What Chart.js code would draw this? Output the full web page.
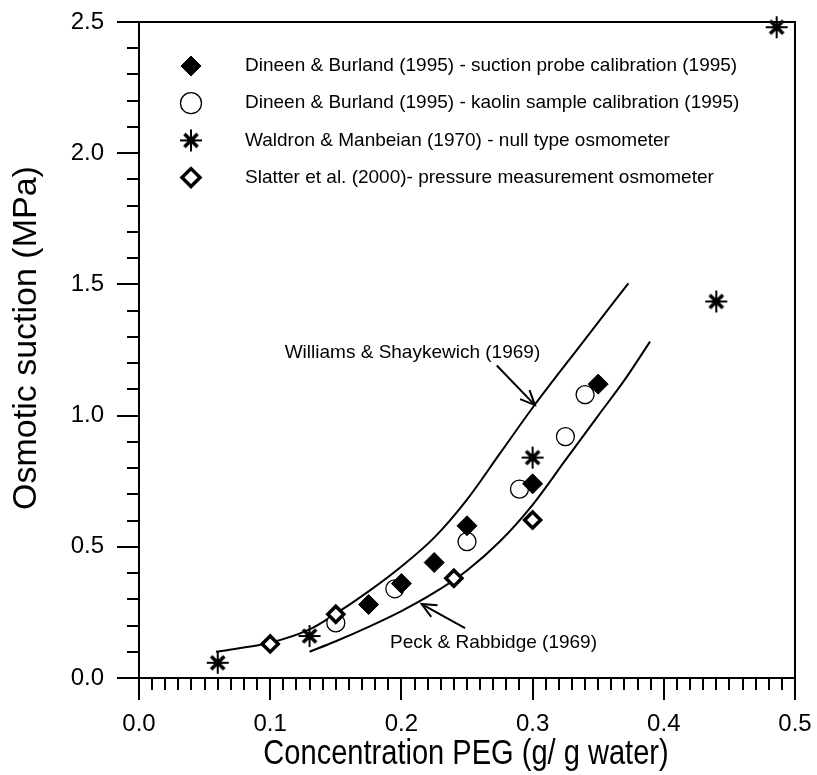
<!DOCTYPE html>
<html>
<head>
<meta charset="utf-8">
<script src="https://cdn.jsdelivr.net/npm/chart.js@4/dist/chart.umd.min.js"></script>
<style>html,body{margin:0;padding:0;background:#fff;}canvas{display:block;}</style>
</head>
<body>
<canvas id="c" width="817" height="775"></canvas>
<script>
// ---- data ----
const probeX   = [0.175, 0.200, 0.225, 0.250, 0.300, 0.350];
const probeY   = [0.28, 0.36, 0.44, 0.58, 0.74, 1.12];
const kaolinX  = [0.150, 0.195, 0.250, 0.290, 0.325, 0.340];
const kaolinY  = [0.21, 0.34, 0.52, 0.72, 0.92, 1.08];
const waldronX = [0.060, 0.130, 0.300, 0.440, 0.486];
const waldronY = [0.058, 0.160, 0.840, 1.435, 2.480];
const slatterX = [0.100, 0.150, 0.240, 0.300];
const slatterY = [0.130, 0.243, 0.380, 0.602];
const williamsX = [0.0587, 0.080, 0.100, 0.130, 0.150, 0.175, 0.200, 0.225, 0.250, 0.275, 0.300, 0.336, 0.373];
const williamsY = [0.100, 0.116, 0.134, 0.185, 0.245, 0.330, 0.425, 0.535, 0.680, 0.855, 1.030, 1.265, 1.504];
const peckX = [0.130, 0.150, 0.175, 0.200, 0.225, 0.250, 0.275, 0.300, 0.325, 0.350, 0.370, 0.3895];
const peckY = [0.100, 0.140, 0.195, 0.255, 0.325, 0.410, 0.520, 0.660, 0.830, 1.000, 1.135, 1.282];

const seriesLabels = [
  'Dineen & Burland (1995) - suction probe calibration (1995)',
  'Dineen & Burland (1995) - kaolin sample calibration (1995)',
  'Waldron & Manbeian (1970) - null type osmometer',
  'Slatter et al. (2000)- pressure measurement osmometer'
];
const curveLabels = ['Williams & Shaykewich (1969)', 'Peck & Rabbidge (1969)'];
const xAxisTitle = 'Concentration PEG (g/ g water)';
const yAxisTitle = 'Osmotic suction (MPa)';

// annotation anchors in data units
const williamsNote = {textX: 0.3058, textY: 1.238, fromX: 0.2727, fromY: 1.191, toX: 0.3018, toY: 1.040};
const peckNote = {textX: 0.1913, textY: 0.133, fromX: 0.2485, fromY: 0.1905, toX: 0.2154, toY: 0.282};

const pts = (xs, ys) => xs.map((v, i) => ({x: v, y: ys[i]}));
const FONT = '"Liberation Sans", Arial, Helvetica, sans-serif';
const TARGET = {left: 139, top: 22, right: 795, bottom: 678};

// asterisk-like star marker (thin cross + thick diagonals)
function makeStar(r) {
  const c = document.createElement('canvas');
  const s = Math.ceil(2 * r + 4);
  c.width = s; c.height = s;
  const g = c.getContext('2d'), m = s / 2, d = r * 0.6;
  g.strokeStyle = '#000'; g.lineCap = 'butt';
  g.lineWidth = 2;
  g.beginPath(); g.moveTo(m, m - r); g.lineTo(m, m + r); g.moveTo(m - r, m); g.lineTo(m + r, m); g.stroke();
  g.lineWidth = 3.6;
  g.beginPath(); g.moveTo(m - d, m - d); g.lineTo(m + d, m + d); g.moveTo(m - d, m + d); g.lineTo(m + d, m - d); g.stroke();
  return c;
}
const starImg = makeStar(11);

const markerStyles = [
  {pointStyle: 'rectRot', radius: 10, borderWidth: 1, fill: '#000', stroke: '#000', lradius: 10},
  {pointStyle: 'circle', radius: 9, borderWidth: 1.3, fill: '#fff', stroke: '#000', lradius: 10.5},
  {pointStyle: starImg, radius: 11, borderWidth: 2, fill: '#000', stroke: '#000', lradius: 11},
  {pointStyle: 'rectRot', radius: 8, borderWidth: 3.5, fill: '#fff', stroke: '#000', lradius: 9}
];
const pointData = [pts(probeX, probeY), pts(kaolinX, kaolinY), pts(waldronX, waldronY), pts(slatterX, slatterY)];
const pointOrder = [2, 5, 1, 3];

const datasets = [];
pointData.forEach((d, i) => {
  const m = markerStyles[i];
  datasets.push({
    label: seriesLabels[i], data: d, showLine: false, clip: false, order: pointOrder[i],
    pointStyle: m.pointStyle, pointRadius: m.radius, pointHoverRadius: m.radius,
    pointBorderWidth: m.borderWidth, pointHoverBorderWidth: m.borderWidth,
    pointBackgroundColor: m.fill, pointBorderColor: m.stroke,
    pointHoverBackgroundColor: m.fill, pointHoverBorderColor: m.stroke
  });
});
[[williamsX, williamsY], [peckX, peckY]].forEach((c, i) => {
  datasets.push({
    label: curveLabels[i], data: pts(c[0], c[1]), showLine: true, order: 10,
    borderColor: '#000', borderWidth: 2, pointRadius: 0, pointHoverRadius: 0,
    cubicInterpolationMode: 'monotone', fill: false
  });
});

function arrow(ctx, x1, y1, x2, y2) {
  ctx.beginPath(); ctx.moveTo(x1, y1); ctx.lineTo(x2, y2); ctx.stroke();
  const a = Math.atan2(y2 - y1, x2 - x1), L = 16, w = 0.42;
  ctx.beginPath();
  ctx.moveTo(x2 - L * Math.cos(a - w), y2 - L * Math.sin(a - w));
  ctx.lineTo(x2, y2);
  ctx.lineTo(x2 - L * Math.cos(a + w), y2 - L * Math.sin(a + w));
  ctx.stroke();
}

const decor = {
  id: 'decor',
  afterDatasetsDraw(chart) {
    const {ctx, chartArea: a, scales: {x, y}} = chart;
    ctx.save();
    ctx.strokeStyle = '#000'; ctx.lineWidth = 2; ctx.lineCap = 'butt';
    ctx.strokeRect(a.left, a.top, a.right - a.left, a.bottom - a.top);
    for (let i = 0; i <= 50; i++) {
      const px = Math.round(x.getPixelForValue(i / 100));
      const len = i % 10 === 0 ? 22 : 12;
      ctx.beginPath(); ctx.moveTo(px, a.bottom); ctx.lineTo(px, a.bottom + len); ctx.stroke();
    }
    for (let i = 0; i <= 25; i++) {
      const py = Math.round(y.getPixelForValue(i / 10));
      const len = i % 5 === 0 ? 22 : 12;
      ctx.beginPath(); ctx.moveTo(a.left, py); ctx.lineTo(a.left - len, py); ctx.stroke();
    }
    ctx.restore();
  },
  afterDraw(chart) {
    const {ctx, scales: {x, y}} = chart;
    ctx.save();
    ctx.fillStyle = '#000'; ctx.strokeStyle = '#000';
    // legend
    const lx = 191, ly0 = 66, dy = 37.2;
    markerStyles.forEach((m, i) => {
      const yy = ly0 + i * dy;
      ctx.save();
      ctx.fillStyle = m.fill; ctx.strokeStyle = m.stroke; ctx.lineWidth = m.borderWidth;
      Chart.helpers.drawPoint(ctx, {pointStyle: m.pointStyle, radius: m.lradius, rotation: 0, borderWidth: m.borderWidth}, lx, yy);
      ctx.restore();
      ctx.font = '19px ' + FONT; ctx.textAlign = 'left'; ctx.textBaseline = 'middle';
      ctx.fillText(seriesLabels[i], 245, yy);
    });
    // curve annotations
    ctx.lineWidth = 2;
    ctx.font = '19px ' + FONT; ctx.textBaseline = 'middle';
    ctx.textAlign = 'right';
    ctx.fillText(curveLabels[0], x.getPixelForValue(williamsNote.textX), y.getPixelForValue(williamsNote.textY));
    arrow(ctx, x.getPixelForValue(williamsNote.fromX), y.getPixelForValue(williamsNote.fromY),
               x.getPixelForValue(williamsNote.toX), y.getPixelForValue(williamsNote.toY));
    ctx.textAlign = 'left';
    ctx.fillText(curveLabels[1], x.getPixelForValue(peckNote.textX), y.getPixelForValue(peckNote.textY));
    arrow(ctx, x.getPixelForValue(peckNote.fromX), y.getPixelForValue(peckNote.fromY),
               x.getPixelForValue(peckNote.toX), y.getPixelForValue(peckNote.toY));
    // axis titles
    ctx.textAlign = 'center'; ctx.textBaseline = 'middle';
    ctx.save();
    ctx.translate(27, 338); ctx.rotate(-Math.PI / 2);
    ctx.font = '34px ' + FONT;
    ctx.fillText(yAxisTitle, 0, 0);
    ctx.restore();
    ctx.save();
    ctx.translate(466, 754); ctx.scale(0.83, 1);
    ctx.font = '35px ' + FONT;
    ctx.fillText(xAxisTitle, 0, 0);
    ctx.restore();
    ctx.restore();
  }
};

const chart = new Chart(document.getElementById('c'), {
  type: 'scatter',
  data: {datasets},
  options: {
    responsive: false, animation: false, devicePixelRatio: 1,
    layout: {autoPadding: false, padding: {top: TARGET.top, right: 817 - TARGET.right, left: 0, bottom: 0}},
    plugins: {legend: {display: false}, tooltip: {enabled: false}},
    events: [],
    scales: {
      x: {
        type: 'linear', min: 0, max: 0.5, position: 'bottom',
        grid: {display: false, drawTicks: false}, border: {display: false},
        ticks: {stepSize: 0.1, padding: 32, color: '#000', font: {family: FONT, size: 24},
                callback: v => v.toFixed(1), maxRotation: 0},
        afterFit: s => { s.height = 775 - TARGET.bottom; s.paddingLeft = 0; s.paddingRight = 0; }
      },
      y: {
        type: 'linear', min: 0, max: 2.5, position: 'left',
        grid: {display: false, drawTicks: false}, border: {display: false},
        ticks: {stepSize: 0.5, padding: 35, color: '#000', font: {family: FONT, size: 24},
                callback: v => v.toFixed(1)},
        afterFit: s => { s.width = TARGET.left; s.paddingTop = 0; s.paddingBottom = 0; }
      }
    }
  },
  plugins: [decor]
});
// correct any residual offset of the plot area
(function fix() {
  const a = chart.chartArea;
  const dt = TARGET.top - a.top, dr = a.right - TARGET.right;
  if (Math.abs(dt) > 0.5 || Math.abs(dr) > 0.5) {
    chart.options.layout.padding = {top: TARGET.top + dt, right: 817 - TARGET.right + dr, left: 0, bottom: 0};
    chart.update();
  }
})();
</script>
</body>
</html>
